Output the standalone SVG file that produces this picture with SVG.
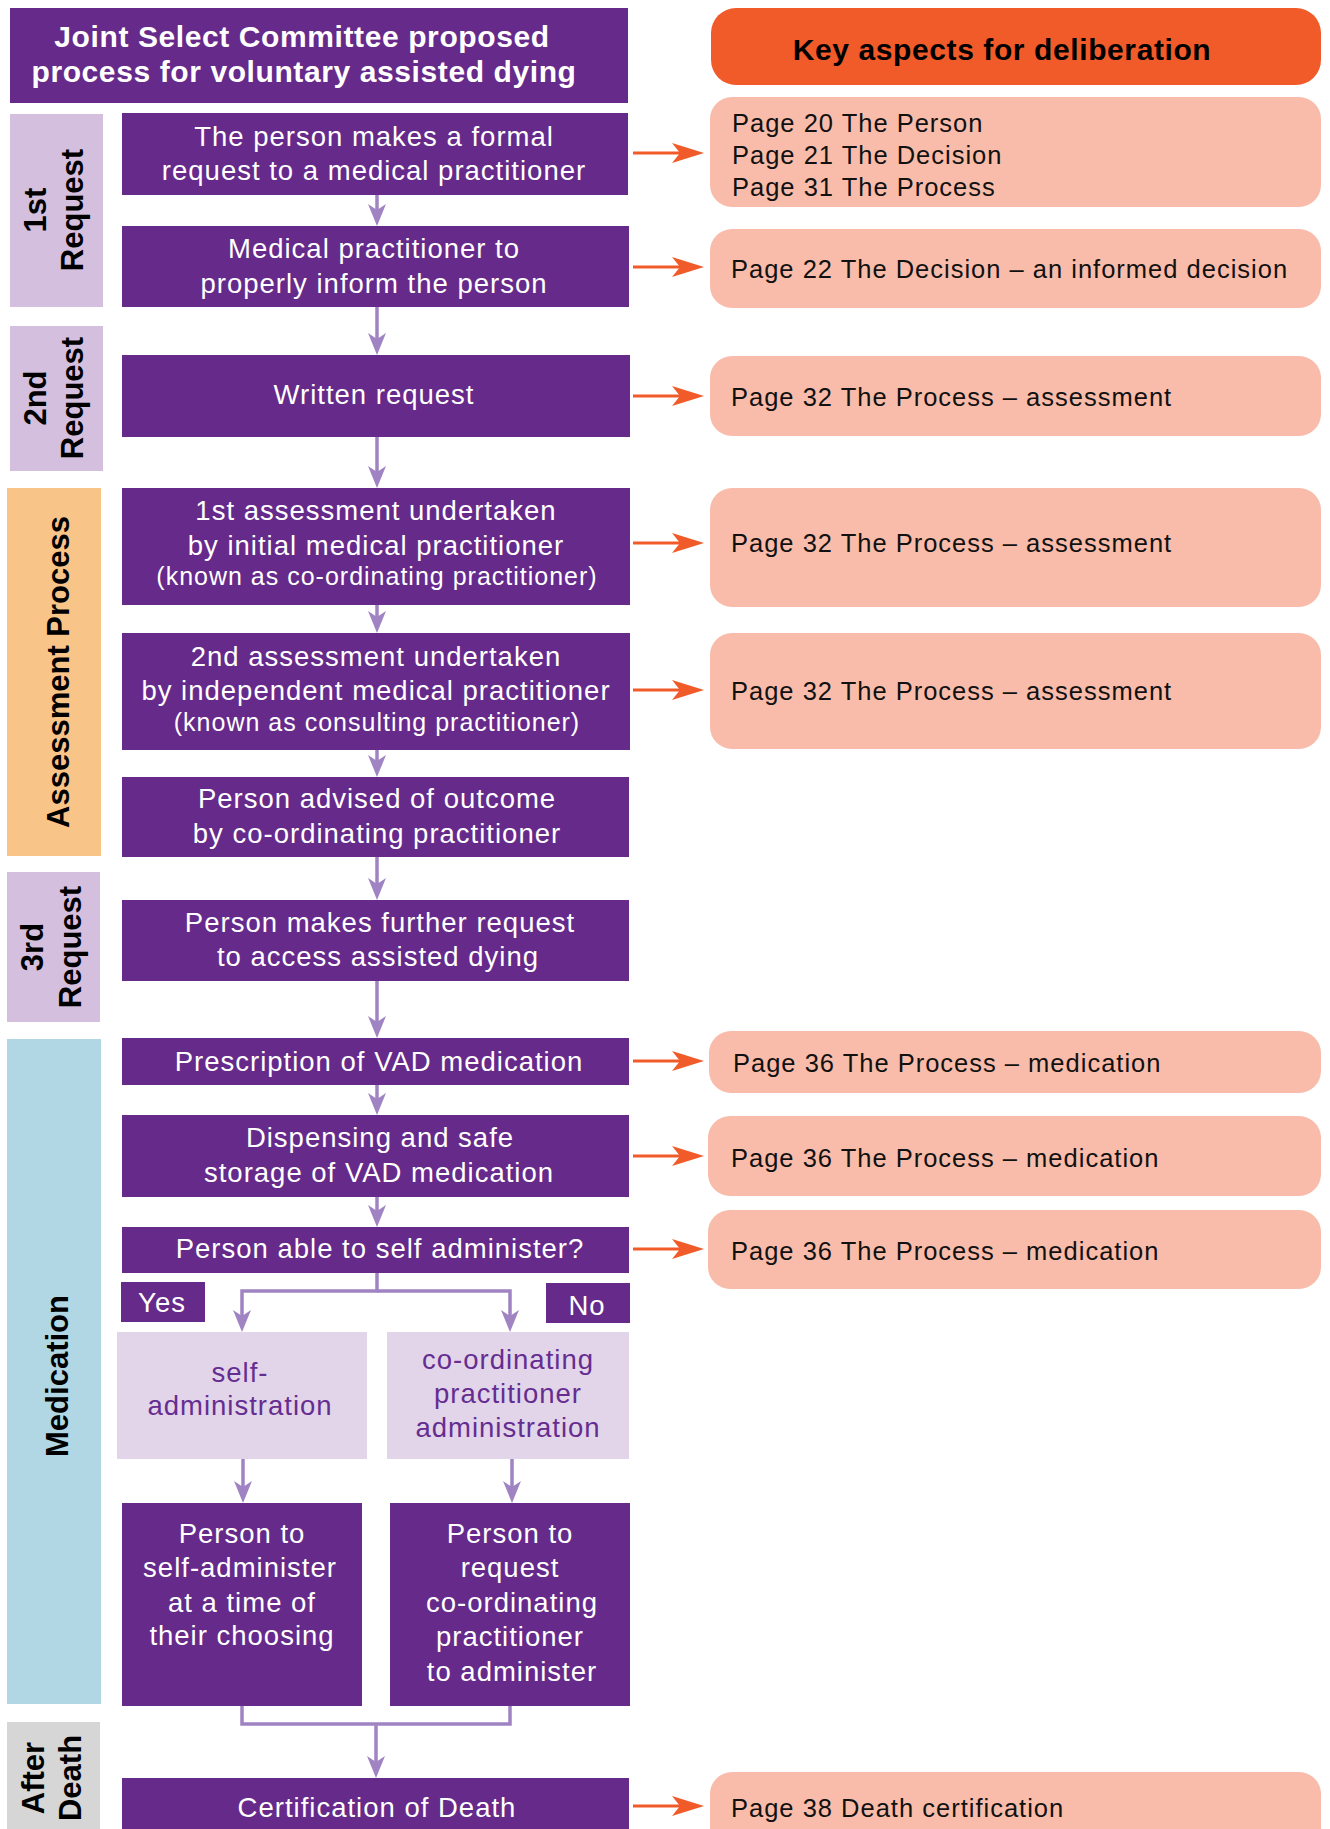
<svg xmlns="http://www.w3.org/2000/svg" width="1330" height="1829" viewBox="0 0 1330 1829">
<defs>
<style>
.pb{fill:#662a8b}
.lb{fill:#e2d5ea}
.rb{fill:#f9bcaa}
.t{font-family:"Liberation Sans",Arial,Helvetica,sans-serif;font-size:27.5px;letter-spacing:1px;fill:#fff;text-anchor:middle}
.ts{font-size:25px}
.tp{fill:#662d91}
.rt{font-family:"Liberation Sans",Arial,Helvetica,sans-serif;font-size:25.5px;letter-spacing:1px;fill:#111}
.hd{font-family:"Liberation Sans",Arial,Helvetica,sans-serif;font-size:30px;font-weight:bold;letter-spacing:0.6px;text-anchor:middle}
.sd{font-family:"Liberation Sans",Arial,Helvetica,sans-serif;font-size:31px;font-weight:bold;fill:#000;text-anchor:middle}
.cp{fill:none;stroke:#a083c2;stroke-width:3.5}
.co{fill:none;stroke:#f15a29;stroke-width:3}
</style>
<marker id="ap" markerUnits="userSpaceOnUse" markerWidth="22" markerHeight="18" viewBox="0 0 22 18" refX="8" refY="9" orient="auto">
<path d="M0,0 L22,9 L0,18 L6,9 Z" fill="#a083c2"/>
</marker>
<marker id="ao" markerUnits="userSpaceOnUse" markerWidth="32" markerHeight="22" viewBox="0 0 32 22" refX="16" refY="11" orient="auto">
<path d="M0,1 L32,11 L0,21 L8,11 Z" fill="#f15a29"/>
</marker>
</defs>
<rect width="1330" height="1829" fill="#fff"/>

<g id="side-labels">
<g id="side-1st"><rect x="10" y="114" width="93" height="193" fill="#d4bfde"/>
<text class="sd" transform="translate(46,210) rotate(-90)">1st</text>
<text class="sd" transform="translate(83,210) rotate(-90)">Request</text></g>
<g id="side-2nd"><rect x="10" y="326" width="93" height="145" fill="#d4bfde"/>
<text class="sd" transform="translate(46,398) rotate(-90)">2nd</text>
<text class="sd" transform="translate(83,398) rotate(-90)">Request</text></g>
<g id="side-assess"><rect x="7" y="488" width="94" height="368" fill="#f9c488"/>
<text class="sd" transform="translate(69,672) rotate(-90)">Assessment Process</text></g>
<g id="side-3rd"><rect x="7" y="872" width="93" height="150" fill="#d4bfde"/>
<text class="sd" transform="translate(43,947) rotate(-90)">3rd</text>
<text class="sd" transform="translate(81,947) rotate(-90)">Request</text></g>
<g id="side-med"><rect x="7" y="1039" width="94" height="665" fill="#b1d7e4"/>
<text class="sd" transform="translate(68,1376) rotate(-90)">Medication</text></g>
<g id="side-after"><rect x="7" y="1722" width="93" height="120" fill="#d6d6d6"/>
<text class="sd" transform="translate(44,1778) rotate(-90)">After</text>
<text class="sd" transform="translate(81,1778) rotate(-90)">Death</text></g>
</g>

<g id="connectors">
<path class="cp" d="M377,195 V212" marker-end="url(#ap)"/>
<path class="cp" d="M377,307 V341" marker-end="url(#ap)"/>
<path class="cp" d="M377,437 V474" marker-end="url(#ap)"/>
<path class="cp" d="M377,605 V619" marker-end="url(#ap)"/>
<path class="cp" d="M377,750 V763" marker-end="url(#ap)"/>
<path class="cp" d="M377,857 V886" marker-end="url(#ap)"/>
<path class="cp" d="M377,981 V1024" marker-end="url(#ap)"/>
<path class="cp" d="M377,1085 V1101" marker-end="url(#ap)"/>
<path class="cp" d="M377,1197 V1213" marker-end="url(#ap)"/>
<path class="cp" d="M377,1273 V1291 H242 V1318" marker-end="url(#ap)"/>
<path class="cp" d="M377,1291 H510 V1318" marker-end="url(#ap)"/>
<path class="cp" d="M243,1459 V1489" marker-end="url(#ap)"/>
<path class="cp" d="M512,1459 V1489" marker-end="url(#ap)"/>
<path class="cp" d="M242,1706 V1724 H510 V1706"/>
<path class="cp" d="M376,1724 V1764" marker-end="url(#ap)"/>
<path class="co" d="M633,153 H688" marker-end="url(#ao)"/>
<path class="co" d="M633,267 H688" marker-end="url(#ao)"/>
<path class="co" d="M633,396 H688" marker-end="url(#ao)"/>
<path class="co" d="M633,543 H688" marker-end="url(#ao)"/>
<path class="co" d="M633,690 H688" marker-end="url(#ao)"/>
<path class="co" d="M633,1061 H688" marker-end="url(#ao)"/>
<path class="co" d="M633,1156 H688" marker-end="url(#ao)"/>
<path class="co" d="M633,1249 H688" marker-end="url(#ao)"/>
<path class="co" d="M633,1806 H688" marker-end="url(#ao)"/>
</g>

<g id="title"><rect class="pb" x="10" y="8" width="618" height="95"/>
<text class="hd" fill="#fff" x="302" y="47">Joint Select Committee proposed</text>
<text class="hd" fill="#fff" x="304" y="82">process for voluntary assisted dying</text></g>

<g id="n-formal-request"><rect class="pb" x="122" y="113" width="506" height="82"/>
<text class="t" x="374" y="146">The person makes a formal</text>
<text class="t" x="374" y="180">request to a medical practitioner</text></g>
<g id="n-inform"><rect class="pb" x="122" y="226" width="507" height="81"/>
<text class="t" x="374" y="258">Medical practitioner to</text>
<text class="t" x="374" y="293">properly inform the person</text></g>
<g id="n-written"><rect class="pb" x="122" y="355" width="508" height="82"/>
<text class="t" x="374" y="404">Written request</text></g>
<g id="n-assess1"><rect class="pb" x="122" y="488" width="508" height="117"/>
<text class="t" x="376" y="520">1st assessment undertaken</text>
<text class="t" x="376" y="555">by initial medical practitioner</text>
<text class="t ts" x="377" y="585">(known as co-ordinating practitioner)</text></g>
<g id="n-assess2"><rect class="pb" x="122" y="633" width="508" height="117"/>
<text class="t" x="376" y="666">2nd assessment undertaken</text>
<text class="t" x="376" y="700">by independent medical practitioner</text>
<text class="t ts" x="377" y="731">(known as consulting practitioner)</text></g>
<g id="n-advised"><rect class="pb" x="122" y="777" width="507" height="80"/>
<text class="t" x="377" y="808">Person advised of outcome</text>
<text class="t" x="377" y="843">by co-ordinating practitioner</text></g>
<g id="n-further"><rect class="pb" x="122" y="900" width="507" height="81"/>
<text class="t" x="380" y="932">Person makes further request</text>
<text class="t" x="378" y="966">to access assisted dying</text></g>
<g id="n-prescription"><rect class="pb" x="122" y="1038" width="507" height="47"/>
<text class="t" x="379" y="1071">Prescription of VAD medication</text></g>
<g id="n-dispensing"><rect class="pb" x="122" y="1115" width="507" height="82"/>
<text class="t" x="380" y="1147">Dispensing and safe</text>
<text class="t" x="379" y="1182">storage of VAD medication</text></g>
<g id="n-able"><rect class="pb" x="122" y="1227" width="507" height="46"/>
<text class="t" x="380" y="1258">Person able to self administer?</text></g>
<g id="n-yes"><rect class="pb" x="121" y="1282" width="84" height="40"/>
<text class="t" x="162" y="1312">Yes</text></g>
<g id="n-no"><rect class="pb" x="546" y="1283" width="84" height="40"/>
<text class="t" x="587" y="1315">No</text></g>
<g id="n-self-admin"><rect class="lb" x="117" y="1332" width="250" height="127"/>
<text class="t tp" x="240" y="1382">self-</text>
<text class="t tp" x="240" y="1415">administration</text></g>
<g id="n-coord-admin"><rect class="lb" x="387" y="1332" width="242" height="127"/>
<text class="t tp" x="508" y="1369">co-ordinating</text>
<text class="t tp" x="508" y="1403">practitioner</text>
<text class="t tp" x="508" y="1437">administration</text></g>
<g id="n-self-choose"><rect class="pb" x="122" y="1503" width="240" height="203"/>
<text class="t" x="242" y="1543">Person to</text>
<text class="t" x="240" y="1577">self-administer</text>
<text class="t" x="242" y="1612">at a time of</text>
<text class="t" x="242" y="1645">their choosing</text></g>
<g id="n-request-coord"><rect class="pb" x="390" y="1503" width="240" height="203"/>
<text class="t" x="510" y="1543">Person to</text>
<text class="t" x="510" y="1577">request</text>
<text class="t" x="512" y="1612">co-ordinating</text>
<text class="t" x="510" y="1646">practitioner</text>
<text class="t" x="512" y="1681">to administer</text></g>
<g id="n-certification"><rect class="pb" x="122" y="1778" width="507" height="70"/>
<text class="t" x="377" y="1817">Certification of Death</text></g>

<g id="key-header"><rect x="711" y="8" width="610" height="77" rx="25" fill="#f15a29"/>
<text class="hd" fill="#000" x="1002" y="60">Key aspects for deliberation</text></g>
<g id="k-1"><rect class="rb" x="710" y="97" width="611" height="110" rx="22"/>
<text class="rt" x="732" y="132">Page 20 The Person</text>
<text class="rt" x="732" y="164">Page 21 The Decision</text>
<text class="rt" x="732" y="196">Page 31 The Process</text></g>
<g id="k-2"><rect class="rb" x="710" y="229" width="611" height="79" rx="22"/>
<text class="rt" x="731" y="278">Page 22 The Decision – an informed decision</text></g>
<g id="k-3"><rect class="rb" x="710" y="356" width="611" height="80" rx="22"/>
<text class="rt" x="731" y="406">Page 32 The Process – assessment</text></g>
<g id="k-4"><rect class="rb" x="710" y="488" width="611" height="119" rx="22"/>
<text class="rt" x="731" y="552">Page 32 The Process – assessment</text></g>
<g id="k-5"><rect class="rb" x="710" y="633" width="611" height="116" rx="22"/>
<text class="rt" x="731" y="700">Page 32 The Process – assessment</text></g>
<g id="k-6"><rect class="rb" x="709" y="1031" width="612" height="62" rx="22"/>
<text class="rt" x="733" y="1072">Page 36 The Process – medication</text></g>
<g id="k-7"><rect class="rb" x="708" y="1116" width="613" height="80" rx="22"/>
<text class="rt" x="731" y="1167">Page 36 The Process – medication</text></g>
<g id="k-8"><rect class="rb" x="708" y="1210" width="613" height="79" rx="22"/>
<text class="rt" x="731" y="1260">Page 36 The Process – medication</text></g>
<g id="k-9"><rect class="rb" x="710" y="1772" width="611" height="80" rx="22"/>
<text class="rt" x="731" y="1817">Page 38 Death certification</text></g>
</svg>
